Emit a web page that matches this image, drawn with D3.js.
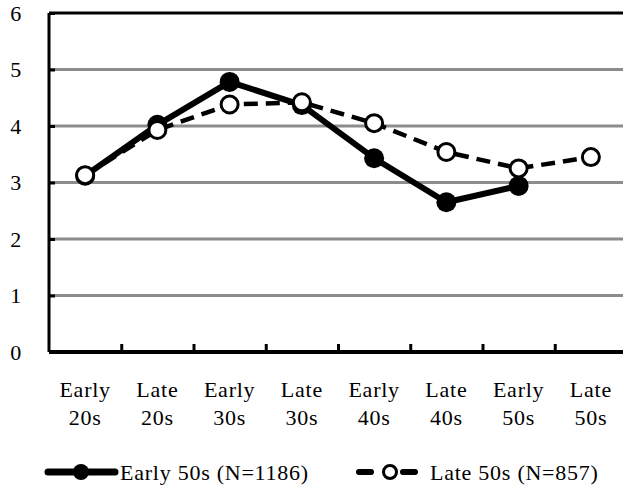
<!DOCTYPE html>
<html>
<head>
<meta charset="utf-8">
<script src="https://cdn.jsdelivr.net/npm/d3@7"></script>
<style>
  body { margin: 0; background: #fff; }
</style>
</head>
<body>
<svg width="623" height="488"></svg>
<script>
const categories = ["Early 20s", "Late 20s", "Early 30s", "Late 30s", "Early 40s", "Late 40s", "Early 50s", "Late 50s"];
const early50s = [3.12, 4.02, 4.78, 4.37, 3.43, 2.65, 2.94, null];
const late50s = [3.13, 3.93, 4.38, 4.42, 4.05, 3.54, 3.25, 3.45];
const yTicks = [0, 1, 2, 3, 4, 5, 6];
const seriesNames = ["Early 50s (N=1186)", "Late 50s (N=857)"];

const svg = d3.select("svg")
    .attr("font-family", "'Liberation Serif', 'Times New Roman', Times, serif")
    .attr("font-size", 22)
    .attr("letter-spacing", "0.75px");
const margin = { top: 13, left: 49 };
const plotRight = 627;
const plotBottom = 352;

const x = d3.scaleBand()
    .domain(categories)
    .range([margin.left, plotRight]);

const y = d3.scaleLinear()
    .domain([0, 6])
    .range([plotBottom, margin.top]);

// grid lines
svg.append("g")
  .selectAll("line")
  .data(yTicks.filter(function(d) { return d > 0 && d < 6; }))
  .join("line")
    .attr("x1", margin.left)
    .attr("x2", plotRight)
    .attr("y1", function(d) { return y(d); })
    .attr("y2", function(d) { return y(d); })
    .attr("stroke", "#8c8c8c")
    .attr("stroke-width", 3);

// top border
svg.append("line")
    .attr("x1", margin.left)
    .attr("x2", plotRight)
    .attr("y1", y(6))
    .attr("y2", y(6))
    .attr("stroke", "#000")
    .attr("stroke-width", 3);

// y axis
const yAxis = svg.append("g")
    .attr("transform", "translate(" + margin.left + ",0)")
    .call(d3.axisRight(y).tickValues(yTicks).tickSize(6).tickFormat(""));
yAxis.select(".domain").attr("stroke-width", 3).attr("d", "M0," + y(0) + "V" + y(6));
yAxis.selectAll(".tick line").attr("stroke-width", 3);

svg.append("g")
  .selectAll("text")
  .data(yTicks)
  .join("text")
    .attr("x", 22)
    .attr("y", function(d) { return y(d); })
    .attr("dy", "0.35em")
    .attr("text-anchor", "end")
    .text(function(d) { return d; });

// x axis, ticks between categories
const xBoundaries = categories.slice(1);
const xAxis = svg.append("g")
    .attr("transform", "translate(0," + plotBottom + ")")
    .call(d3.axisTop(d3.scaleOrdinal().domain(xBoundaries).range(xBoundaries.map(function(c) { return x(c); })))
      .tickSize(8).tickFormat(""));
xAxis.select(".domain").attr("stroke-width", 4).attr("d", "M" + margin.left + ",0H" + plotRight);
xAxis.selectAll(".tick line").attr("stroke-width", 3);

const labels = svg.append("g")
  .selectAll("text")
  .data(categories)
  .join("text")
    .attr("y", 397)
    .attr("text-anchor", "middle");
labels.append("tspan")
    .attr("x", function(d) { return x(d) + x.bandwidth() / 2; })
    .text(function(d) { return d.split(" ")[0]; });
labels.append("tspan")
    .attr("x", function(d) { return x(d) + x.bandwidth() / 2; })
    .attr("dy", 28)
    .text(function(d) { return d.split(" ")[1]; });

const line = d3.line()
    .defined(function(d) { return d != null; })
    .x(function(d, i) { return x(categories[i]) + x.bandwidth() / 2; })
    .y(function(d) { return y(d); });

// Early 50s: solid, filled markers
svg.append("path")
    .datum(early50s)
    .attr("d", line)
    .attr("fill", "none")
    .attr("stroke", "#000")
    .attr("stroke-width", 6)
    .attr("stroke-linejoin", "round");

svg.append("g")
  .selectAll("circle")
  .data(early50s.map(function(v, i) { return { c: categories[i], v: v }; }).filter(function(d) { return d.v != null; }))
  .join("circle")
    .attr("cx", function(d) { return x(d.c) + x.bandwidth() / 2; })
    .attr("cy", function(d) { return y(d.v); })
    .attr("r", 10)
    .attr("fill", "#000");

// Late 50s: dashed, open markers
svg.append("path")
    .datum(late50s)
    .attr("d", line)
    .attr("fill", "none")
    .attr("stroke", "#000")
    .attr("stroke-width", 4.5)
    .attr("stroke-dasharray", "14,8");

svg.append("g")
  .selectAll("circle")
  .data(late50s.map(function(v, i) { return { c: categories[i], v: v }; }))
  .join("circle")
    .attr("cx", function(d) { return x(d.c) + x.bandwidth() / 2; })
    .attr("cy", function(d) { return y(d.v); })
    .attr("r", 8.5)
    .attr("fill", "#fff")
    .attr("stroke", "#000")
    .attr("stroke-width", 3);

// legend
const legendY = 472;
const leg1 = svg.append("g");
leg1.append("line")
    .attr("x1", 48).attr("x2", 115)
    .attr("y1", legendY).attr("y2", legendY)
    .attr("stroke", "#000").attr("stroke-width", 7).attr("stroke-linecap", "round");
leg1.append("circle")
    .attr("cx", 81).attr("cy", legendY).attr("r", 8)
    .attr("fill", "#000");
leg1.append("text")
    .attr("x", 120).attr("y", legendY).attr("dy", "0.35em")
    .text(seriesNames[0]);

const leg2 = svg.append("g");
leg2.append("line")
    .attr("x1", 359).attr("x2", 415)
    .attr("y1", legendY).attr("y2", legendY)
    .attr("stroke", "#000").attr("stroke-width", 6).attr("stroke-linecap", "round")
    .attr("stroke-dasharray", "12,32");
leg2.append("circle")
    .attr("cx", 390).attr("cy", legendY).attr("r", 6.5)
    .attr("fill", "#fff").attr("stroke", "#000").attr("stroke-width", 3);
leg2.append("text")
    .attr("x", 430).attr("y", legendY).attr("dy", "0.35em")
    .text(seriesNames[1]);
</script>
</body>
</html>
